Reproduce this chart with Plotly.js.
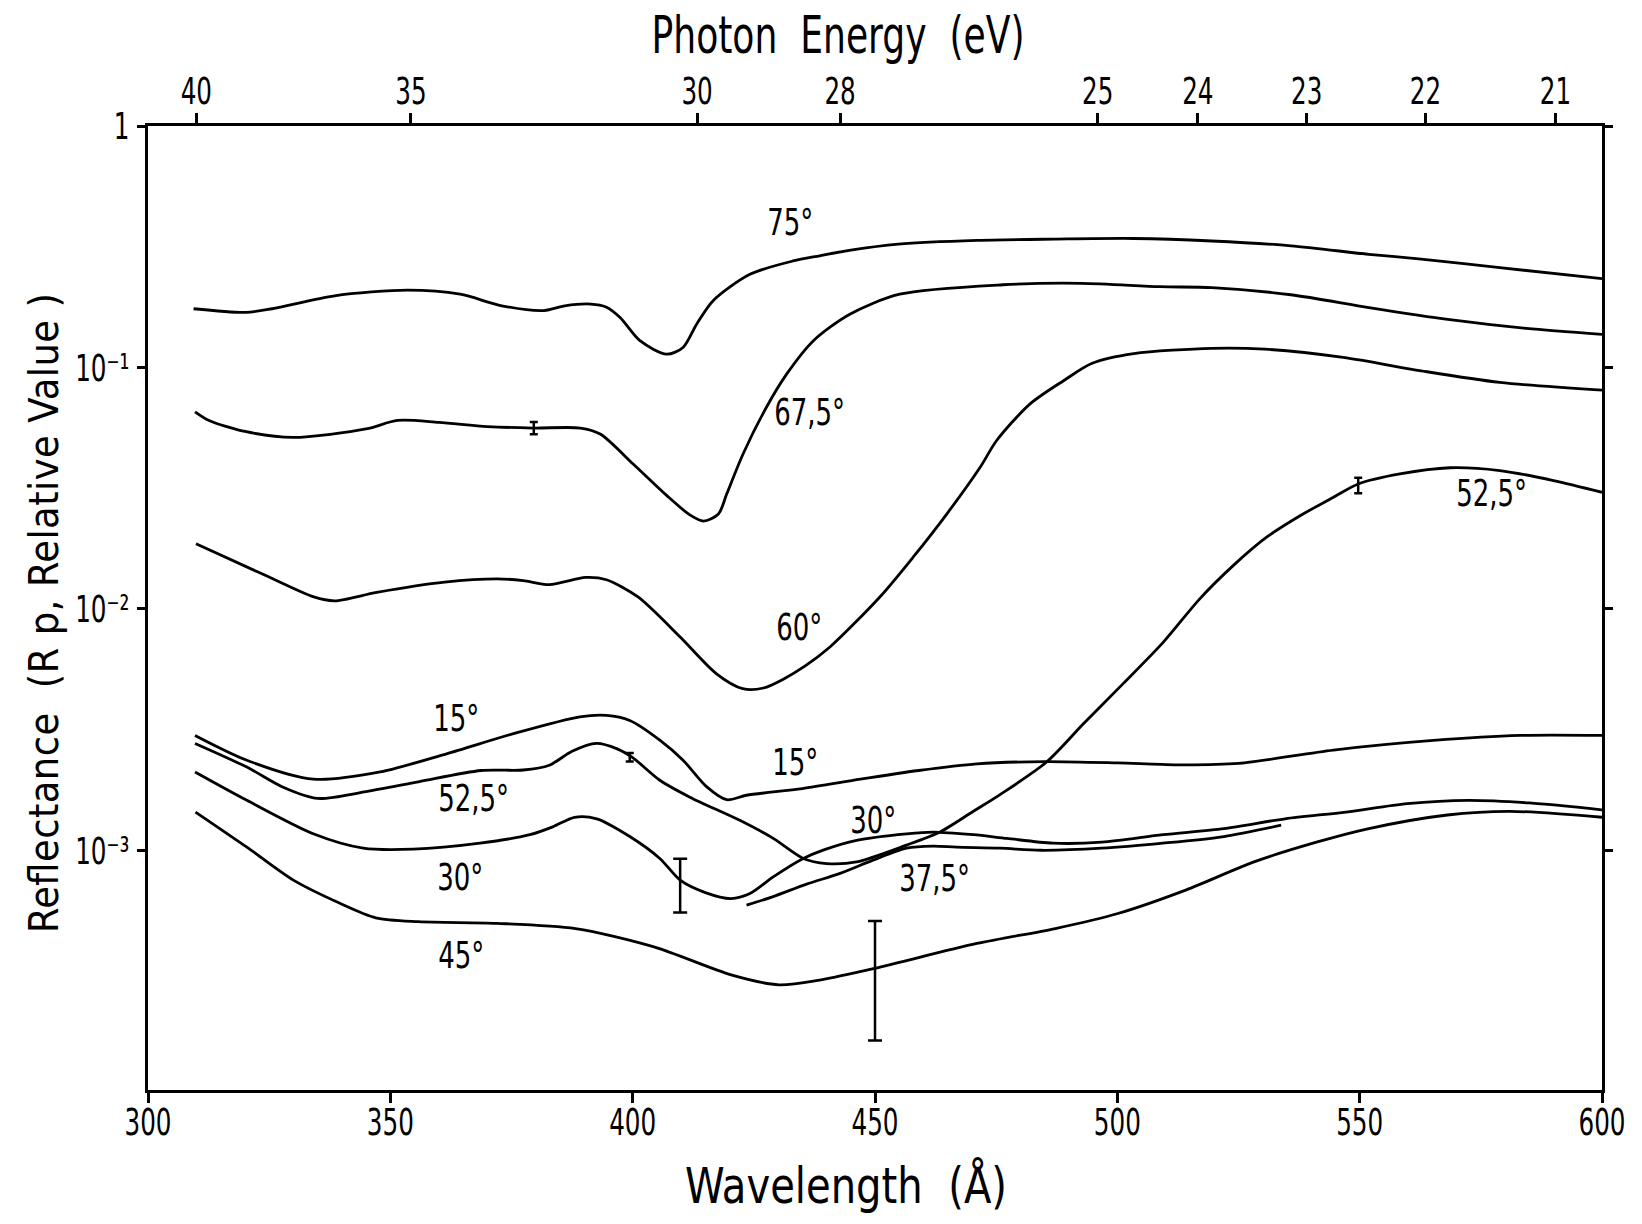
<!DOCTYPE html>
<html>
<head>
<meta charset="utf-8">
<script src="https://cdn.plot.ly/plotly-3.0.1.min.js"></script>
<style>
  html, body { margin: 0; padding: 0; background: #ffffff; }
  #chart { width: 1642px; height: 1224px; }
</style>
</head>
<body>
<div id="chart"></div>
<script>
// ---------- data (wavelength in Å, reflectance Rp relative value) ----------
const lam75 = [309.4, 320.2, 325.6, 338.5, 353.6, 364.4, 373.0, 381.7, 386.0, 391.4, 394.5, 397.4, 401.5, 407.0, 410.4, 413.2, 416.6, 424.2, 433.1, 438.6, 445.0, 454.8, 471.0, 487.0, 503.4, 519.5, 535.8, 551.9, 562.7, 578.9, 600.0];
const r75   = [0.175, 0.169, 0.175, 0.198, 0.209, 0.201, 0.180, 0.172, 0.180, 0.183, 0.178, 0.161, 0.129, 0.1135, 0.121, 0.151, 0.189, 0.243, 0.276, 0.290, 0.306, 0.324, 0.336, 0.340, 0.342, 0.334, 0.319, 0.294, 0.281, 0.259, 0.233];

const lam675 = [309.7, 312.6, 320.0, 329.9, 345.0, 351.5, 360.0, 370.0, 379.5, 389.2, 393.3, 400.1, 407.0, 411.8, 414.6, 417.7, 419.4, 422.8, 427.6, 431.8, 437.3, 444.8, 455.1, 476.4, 492.6, 508.8, 519.5, 535.8, 551.9, 568.2, 584.4, 600.0];
const r675   = [0.0655, 0.0603, 0.0543, 0.0513, 0.0556, 0.0603, 0.0592, 0.0569, 0.0561, 0.0561, 0.0530, 0.0398, 0.0295, 0.0245, 0.0231, 0.0247, 0.0299, 0.0439, 0.0684, 0.0940, 0.129, 0.166, 0.201, 0.220, 0.223, 0.216, 0.214, 0.200, 0.177, 0.158, 0.145, 0.137];

const lam60 = [309.9, 323.4, 334.2, 338.5, 347.2, 361.2, 372.0, 377.4, 382.8, 390.3, 394.6, 401.1, 409.8, 417.3, 422.7, 427.0, 431.0, 435.6, 440.7, 451.0, 457.9, 464.8, 471.7, 475.1, 482.0, 488.9, 494.8, 503.4, 519.5, 530.4, 546.6, 562.7, 578.9, 600.0];
const r60   = [0.0186, 0.0140, 0.0112, 0.0108, 0.0117, 0.0129, 0.0133, 0.0131, 0.0126, 0.0135, 0.0132, 0.0112, 0.00764, 0.00538, 0.00467, 0.00470, 0.00510, 0.00580, 0.00695, 0.0112, 0.0164, 0.0247, 0.0386, 0.0498, 0.0706, 0.0881, 0.104, 0.114, 0.120, 0.119, 0.110, 0.0968, 0.0867, 0.0805];

const lam525 = [309.7, 320.4, 328.0, 335.0, 345.0, 355.8, 368.7, 377.4, 382.8, 387.5, 392.5, 396.8, 400.0, 405.6, 411.8, 422.1, 429.0, 435.2, 440.0, 446.2, 456.5, 463.4, 470.3, 475.8, 485.4, 493.0, 501.2, 509.5, 517.0, 523.9, 530.8, 537.7, 544.6, 549.7, 558.3, 568.6, 578.9, 590.0, 600.0];
const r525   = [0.00277, 0.00221, 0.00182, 0.00164, 0.00175, 0.00192, 0.00214, 0.00215, 0.00225, 0.00257, 0.00277, 0.00263, 0.00242, 0.00195, 0.00166, 0.00133, 0.00112, 0.000925, 0.000881, 0.000895, 0.00105, 0.00119, 0.00145, 0.00170, 0.00232, 0.00334, 0.00490, 0.00728, 0.0110, 0.0151, 0.0198, 0.0243, 0.0290, 0.0329, 0.0362, 0.0384, 0.0374, 0.0340, 0.0304];

const lam15 = [309.7, 320.4, 334.1, 347.9, 361.6, 375.4, 389.1, 394.6, 399.4, 405.6, 410.4, 415.3, 419.4, 423.5, 435.0, 447.0, 459.0, 471.0, 485.0, 500.0, 512.0, 525.0, 544.6, 565.2, 583.1, 600.0];
const r15   = [0.00299, 0.00236, 0.00197, 0.00211, 0.00251, 0.00304, 0.00357, 0.00362, 0.00345, 0.00286, 0.00236, 0.00183, 0.00162, 0.00169, 0.00180, 0.00197, 0.00214, 0.00228, 0.00233, 0.00230, 0.00226, 0.00229, 0.00260, 0.00285, 0.00299, 0.00299];

const lam30 = [309.7, 320.4, 334.1, 344.4, 354.7, 368.5, 378.8, 383.5, 388.0, 392.6, 399.4, 405.6, 409.8, 415.0, 420.3, 424.2, 429.0, 435.2, 439.3, 446.2, 456.5, 462.0, 470.3, 477.2, 486.7, 496.8, 509.4, 522.0, 534.6, 547.2, 559.8, 572.4, 585.0, 600.0];
const r30   = [0.00211, 0.00161, 0.00117, 0.00102, 0.00101, 0.00107, 0.00116, 0.00125, 0.00137, 0.00135, 0.00114, 0.000925, 0.000752, 0.000668, 0.000631, 0.000662, 0.000776, 0.000925, 0.001002, 0.00110, 0.00117, 0.00119, 0.00116, 0.00112, 0.00107, 0.00108, 0.00116, 0.00123, 0.00135, 0.00144, 0.00156, 0.00161, 0.00157, 0.00147];

const lam375 = [423.5, 429.0, 435.9, 442.8, 449.6, 456.5, 462.0, 466.8, 475.8, 484.2, 496.8, 509.4, 522.0, 533.8];
const r375   = [0.000593, 0.000643, 0.000724, 0.000802, 0.000910, 0.00102, 0.00104, 0.00103, 0.00102, 0.00100, 0.00102, 0.00107, 0.00114, 0.00127];

const lam45 = [309.8, 320.4, 330.0, 339.6, 347.0, 355.8, 372.0, 388.2, 404.4, 420.5, 430.2, 438.6, 449.9, 471.0, 487.2, 500.1, 514.1, 528.2, 541.1, 551.9, 568.1, 581.0, 600.0];
const r45   = [0.00144, 0.00103, 0.000752, 0.000603, 0.000525, 0.000506, 0.000498, 0.000474, 0.000398, 0.000304, 0.000277, 0.000290, 0.000324, 0.000411, 0.000474, 0.000547, 0.000684, 0.000895, 0.00108, 0.00123, 0.00140, 0.00145, 0.00137];

// error bars: small ones (67.5° at 380 Å, 52.5° at 400 Å and 550 Å) and large ones (30° at 410 Å, 45° at 450 Å)
const errSmallLam   = [379.6, 399.4, 549.7];
const errSmallR     = [0.0561, 0.00243, 0.0326];
const errSmallPlus  = [0.0033, 0.0001, 0.0023];
const errSmallMinus = [0.0032, 0.0001, 0.0025];
const errBigLam     = [409.8, 450.0];
const errBigR       = [0.000752, 0.000324];
const errBigPlus    = [0.00017, 0.000185];
const errBigMinus   = [0.0002, 0.000161];

// axis ticks
const wlTicks = [300, 350, 400, 450, 500, 550, 600];
const eVTickLabels = ['40', '35', '30', '28', '25', '24', '23', '22', '21'];
const eVTickPos = [309.96, 354.24, 413.28, 442.80, 495.94, 516.60, 539.06, 563.56, 590.40]; // λ = 12398.4 / E
const yTickVals = [1, 0.1, 0.01, 0.001];
const yTickText = ['1', '10\u207B\u00B9', '10\u207B\u00B2', '10\u207B\u00B3'];

// curve labels
const labelText = ['75°', '67,5°', '60°', '15°', '15°', '52,5°', '52,5°', '30°', '30°', '37,5°', '45°'];
const labelLam  = [432.6, 436.5, 434.5, 363.7, 433.6, 367.1, 577.1, 364.5, 449.7, 462.2, 364.7];
const labelR    = [0.401, 0.0653, 0.00838, 0.00354, 0.00231, 0.00164, 0.0303, 0.000778, 0.00133, 0.000769, 0.000368];

// ---------- chart ----------
const COND = "'DejaVu Sans Condensed', 'DejaVu Sans', sans-serif";
const LINE = { color: '#000000', width: 2.8, shape: 'spline', smoothing: 0.8 };

function curve(x, y, name) {
  return { type: 'scatter', mode: 'lines', x: x, y: y, name: name, line: LINE, hoverinfo: 'x+y+name' };
}

const traces = [
  curve(lam75, r75, '75°'),
  curve(lam675, r675, '67,5°'),
  curve(lam60, r60, '60°'),
  curve(lam525, r525, '52,5°'),
  curve(lam15, r15, '15°'),
  curve(lam30, r30, '30°'),
  curve(lam375, r375, '37,5°'),
  curve(lam45, r45, '45°'),
  {
    type: 'scatter', mode: 'markers', x: errSmallLam, y: errSmallR, name: 'error',
    marker: { size: 1, color: 'rgba(0,0,0,0)' },
    error_y: { type: 'data', symmetric: false, array: errSmallPlus, arrayminus: errSmallMinus,
               color: '#000000', thickness: 2.5, width: 4 }
  },
  {
    type: 'scatter', mode: 'markers', x: errBigLam, y: errBigR, name: 'error',
    marker: { size: 1, color: 'rgba(0,0,0,0)' },
    error_y: { type: 'data', symmetric: false, array: errBigPlus, arrayminus: errBigMinus,
               color: '#000000', thickness: 2.5, width: 7 }
  },
  // invisible trace that carries the photon-energy axis
  { type: 'scatter', mode: 'markers', x: [300, 600], y: [1e-4, 1e-4], xaxis: 'x2',
    marker: { size: 1, color: 'rgba(0,0,0,0)' }, hoverinfo: 'skip', showlegend: false }
];

const annotations = labelText.map((t, i) => ({
  x: labelLam[i], y: Math.log10(labelR[i]), xref: 'x', yref: 'y',
  text: t, showarrow: false, xanchor: 'center', yanchor: 'middle',
  font: { family: COND, size: 38, color: '#000000' }
}));

const layout = {
  width: 1642, height: 1224,
  margin: { l: 148, r: 40, t: 126, b: 134, pad: 0 },
  paper_bgcolor: '#ffffff', plot_bgcolor: '#ffffff',
  showlegend: false,
  font: { family: COND, color: '#000000', size: 38 },
  xaxis: {
    range: [300, 600], autorange: false,
    tickmode: 'array', tickvals: wlTicks,
    ticks: 'outside', ticklen: 10, tickwidth: 3, tickcolor: '#000000',
    ticklabelstandoff: -14, ticklabeloverflow: 'allow',
    showline: true, linewidth: 3, linecolor: '#000000',
    showgrid: false, zeroline: false,
    tickfont: { family: COND, size: 38 },
    title: { text: 'Wavelength\u00a0\u00a0(Å)', font: { family: COND, size: 50 }, standoff: 26 }
  },
  xaxis2: {
    overlaying: 'x', side: 'top', anchor: 'y',
    range: [300, 600], autorange: false,
    tickmode: 'array', tickvals: eVTickPos, ticktext: eVTickLabels,
    ticks: 'outside', ticklen: 10, tickwidth: 3, tickcolor: '#000000',
    ticklabelstandoff: -6, ticklabeloverflow: 'allow',
    showline: true, linewidth: 3, linecolor: '#000000',
    showgrid: false, zeroline: false,
    tickfont: { family: COND, size: 38 },
    title: { text: 'Photon\u00a0\u00a0Energy\u00a0\u00a0(eV)', font: { family: COND, size: 52 }, standoff: 6 }
  },
  yaxis: {
    type: 'log', range: [-3.993, 0], autorange: false,
    tickmode: 'array', tickvals: yTickVals, ticktext: yTickText,
    ticks: 'outside', ticklen: 8, tickwidth: 3, tickcolor: '#000000',
    showline: true, linewidth: 3, linecolor: '#000000', mirror: 'ticks',
    showgrid: false, zeroline: false,
    tickfont: { family: COND, size: 38 },
    title: { text: 'Reflectance\u00a0\u00a0(R\u00a0p,\u00a0Relative\u00a0Value\u00a0)', font: { family: COND, size: 41 }, standoff: 4 }
  },
  annotations: annotations
};

Plotly.newPlot('chart', traces, layout, { displayModeBar: false, staticPlot: true }).then(gd => {
  // narrow the lettering like the engineering (DIN-style) typeface of the original
  function squeeze(selector, factor, fixed, mode) {
    gd.querySelectorAll(selector).forEach(t => {
      const len = t.getComputedTextLength();
      if (!len) return;
      const target = fixed ? fixed : len * factor;
      t.setAttribute('textLength', target.toFixed(1));
      t.setAttribute('lengthAdjust', mode || 'spacingAndGlyphs');
    });
  }
  // place a title so that its box is centred on (cx, cy) in page pixels
  function centre(selector, cx, cy) {
    const t = gd.querySelector(selector);
    if (!t) return;
    const r = t.getBoundingClientRect();
    const dx = cx === null ? 0 : cx - (r.left + r.right) / 2;
    const dy = cy === null ? 0 : cy - (r.top + r.bottom) / 2;
    const old = t.getAttribute('transform') || '';
    t.setAttribute('transform', 'translate(' + dx.toFixed(1) + ',' + dy.toFixed(1) + ') ' + old);
  }
  squeeze('g.xtick > text, g.x2tick > text, g.ytick > text', 0.72);
  squeeze('text.annotation-text', 0.76);
  squeeze('text.x2title', 0, 373);
  squeeze('text.xtitle', 0, 322);
  squeeze('text.ytitle', 0, 640, 'spacing');
  centre('text.x2title', 838, 35);
  centre('text.xtitle', 846, 1186);
  centre('text.ytitle', 44, 613);
});
</script>
</body>
</html>
